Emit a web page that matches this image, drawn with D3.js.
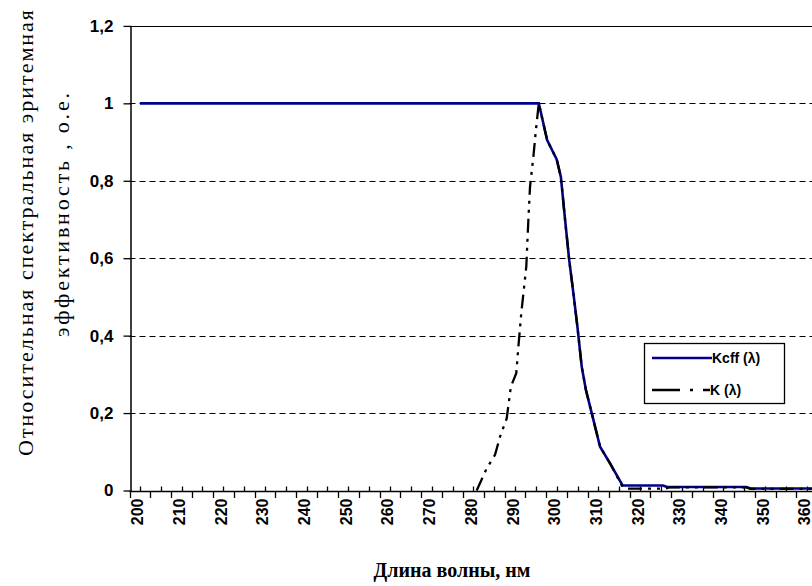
<!DOCTYPE html>
<html>
<head>
<meta charset="utf-8">
<script src="https://d3js.org/d3.v7.min.js"></script>
<style>
body{margin:0;background:#fff;}
svg{display:block;}
</style>
</head>
<body>
<div id="chart"></div>
<script>
// wavelength, nm  /  relative value, a.u.
var keffWave  = [200, 295.7, 297.7, 300, 301, 302, 303, 304, 305, 306, 307, 308.4, 310.4, 312.8, 315.8, 325.5, 326.5, 345.5, 346.5, 365];
var keffValue = [1,   1,     0.905, 0.855, 0.81, 0.70, 0.595, 0.51, 0.42, 0.32, 0.26, 0.20, 0.113, 0.07, 0.013, 0.013, 0.009, 0.009, 0.005, 0.005];

var kWave  = [280.8, 283.2, 285.2, 286.4, 288, 289, 290.3, 290.8, 291.5, 292.7, 293.2, 293.6, 294.4, 295, 295.7, 297.7, 300, 301, 302, 303, 304, 305, 306, 307, 308.4, 310.4, 312.8, 315.6, 316.5, 326, 327, 345.5, 346.5, 365];
var kValue = [0,     0.057, 0.092, 0.139, 0.186, 0.268, 0.303, 0.371, 0.458, 0.578, 0.699, 0.785, 0.862, 0.93, 1, 0.905, 0.855, 0.81, 0.70, 0.595, 0.51, 0.42, 0.32, 0.26, 0.20, 0.113, 0.07, 0.013, 0.005, 0.005, 0.008, 0.008, 0.004, 0.004];

var xTickLabels = d3.range(200, 361, 10);
var yTickValues = [0, 0.2, 0.4, 0.6, 0.8, 1, 1.2];
var seriesNames = ["Kcff (\u03bb)", "K (\u03bb)"];

var width = 812, height = 586;
var svg = d3.select("#chart").append("svg")
    .attr("width", width).attr("height", height);

var x = d3.scaleLinear().domain([197.5, 362.5]).range([129.5, 817.2]);
var y = d3.scaleLinear().domain([0, 1.2]).range([490.5, 25.9]);

// gridlines
svg.append("g").selectAll("line")
    .data(yTickValues.filter(function(v){ return v > 0 && v < 1.2; }))
    .enter().append("line")
    .attr("x1", x(197.5)).attr("x2", x(362.5))
    .attr("y1", function(d){ return Math.round(y(d)) + 0.5; })
    .attr("y2", function(d){ return Math.round(y(d)) + 0.5; })
    .attr("stroke", "#000").attr("stroke-width", 1)
    .attr("stroke-dasharray", "6,4");

// plot border top
svg.append("line")
    .attr("x1", x(197.5)).attr("x2", x(362.5))
    .attr("y1", Math.round(y(1.2)) + 0.5).attr("y2", Math.round(y(1.2)) + 0.5)
    .attr("stroke", "#000").attr("stroke-width", 1);

// y axis
var yAxis = d3.axisLeft(y).tickValues(yTickValues).tickSizeInner(7).tickSizeOuter(0)
    .tickFormat(function(d){ return d3.format("~g")(d).replace(".", ","); });
var gy = svg.append("g").attr("transform", "translate(" + (Math.round(x(197.5)) + 0.5) + ",0)").call(yAxis);
gy.select(".domain").attr("stroke", "#000").attr("stroke-width", 1.5);
gy.selectAll(".tick line").attr("x2", -7).attr("x1", 1).attr("stroke-width", 1.3);
gy.selectAll(".tick text")
    .attr("x", -17)
    .style("font-family", "'Liberation Sans', Arial, sans-serif")
    .style("font-weight", "bold").style("font-size", "17px").attr("fill", "#000");

// x axis: outer ticks on category boundaries, inner ticks at category centres
var gx = svg.append("g").attr("transform", "translate(0," + (Math.round(y(0)) + 0.5) + ")");
gx.append("line").attr("x1", x(197.5)).attr("x2", x(362.5))
    .attr("stroke", "#000").attr("stroke-width", 1.5);
gx.selectAll(".down").data(d3.range(197.5, 362.6, 5)).enter().append("line")
    .attr("x1", function(d){ return Math.round(x(d)) + 0.5; })
    .attr("x2", function(d){ return Math.round(x(d)) + 0.5; })
    .attr("y1", 0).attr("y2", 6.5).attr("stroke", "#000").attr("stroke-width", 1.3);
gx.selectAll(".up").data(d3.range(200, 361, 5)).enter().append("line")
    .attr("x1", function(d){ return Math.round(x(d)) + 0.5; })
    .attr("x2", function(d){ return Math.round(x(d)) + 0.5; })
    .attr("y1", 0).attr("y2", -5).attr("stroke", "#000").attr("stroke-width", 1.3);
gx.selectAll("text").data(xTickLabels).enter().append("text")
    .attr("transform", function(d){ return "translate(" + (x(d) + 3.5) + ",7) rotate(-90)"; })
    .attr("text-anchor", "end")
    .style("font-family", "'Liberation Sans', Arial, sans-serif")
    .style("font-weight", "bold").style("font-size", "16px")
    .text(function(d){ return d; });

// lines
var line = d3.line().x(function(d){ return x(d[0]); }).y(function(d){ return y(d[1]); });
svg.append("clipPath").attr("id", "clip").append("rect")
    .attr("x", x(197.5)).attr("y", y(1.2)).attr("width", x(362.5) - x(197.5)).attr("height", y(0) - y(1.2) + 2);

svg.append("path")
    .datum(d3.zip(keffWave, keffValue))
    .attr("clip-path", "url(#clip)")
    .attr("d", line)
    .attr("fill", "none").attr("stroke", "#00008c").attr("stroke-width", 2.6);

svg.append("path")
    .datum(d3.zip(kWave, kValue))
    .attr("clip-path", "url(#clip)")
    .attr("d", line)
    .attr("fill", "none").attr("stroke", "#000").attr("stroke-width", 2.3)
    .attr("stroke-dasharray", "14,6,3,6,3,6");

// legend
var legend = svg.append("g").attr("transform", "translate(644,343)");
legend.append("rect").attr("x", 0.5).attr("y", 0.5).attr("width", 140).attr("height", 60)
    .attr("fill", "#fff").attr("stroke", "#000").attr("stroke-width", 1.3);
var legendStroke = ["#00008c", "#000"];
var legendDash = [null, "28,10,3,10,5,0"];
seriesNames.forEach(function(name, i){
    var ly = 15 + i * 32;
    legend.append("line").attr("x1", 8).attr("x2", i === 0 ? 68 : 66).attr("y1", ly).attr("y2", ly)
        .attr("stroke", legendStroke[i]).attr("stroke-width", 2.4)
        .attr("stroke-dasharray", legendDash[i]);
    legend.append("text").attr("x", i === 0 ? 68 : 66).attr("y", ly + 5)
        .style("font-family", "'Liberation Sans', Arial, sans-serif")
        .style("font-weight", "bold").style("font-size", "14px")
        .text(name);
});

// axis titles
svg.append("text")
    .attr("transform", "translate(33,233) rotate(-90)")
    .attr("text-anchor", "middle")
    .attr("textLength", 446).attr("lengthAdjust", "spacing")
    .style("font-family", "'Liberation Serif', 'Times New Roman', serif")
    .style("font-size", "22px")
    .text("Относительная спектральная эритемная");
svg.append("text")
    .attr("transform", "translate(69,215) rotate(-90)")
    .attr("text-anchor", "middle")
    .attr("textLength", 244).attr("lengthAdjust", "spacing")
    .style("font-family", "'Liberation Serif', 'Times New Roman', serif")
    .style("font-size", "22px")
    .text("эффективность , о.е.");
svg.append("text")
    .attr("x", 452).attr("y", 577)
    .attr("text-anchor", "middle")
    .style("font-family", "'Liberation Serif', 'Times New Roman', serif")
    .style("font-weight", "bold").style("font-size", "20px")
    .text("Длина волны, нм");
</script>
</body>
</html>
